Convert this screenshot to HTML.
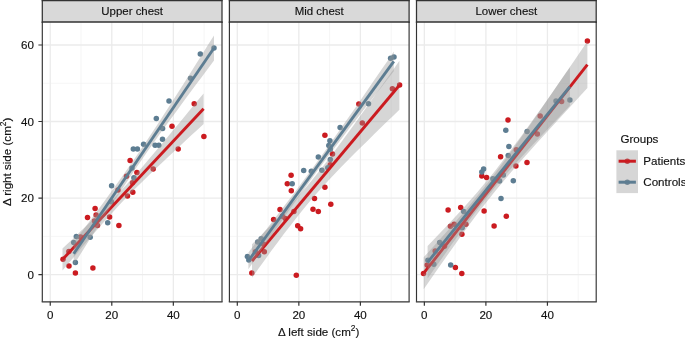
<!DOCTYPE html>
<html><head><meta charset="utf-8"><style>
html,body{margin:0;padding:0;background:#fff;}
svg{display:block;will-change:transform;}
.t{font-family:"Liberation Sans",sans-serif;font-size:11.6px;fill:#111;stroke:#111;stroke-width:0.15px;}
.s{font-size:11.45px;text-anchor:middle;}
.m{text-anchor:middle;}
.e{text-anchor:end;}
.sup{font-size:8.4px;}
.gm{stroke:#F2F2F2;stroke-width:0.75;fill:none;}
.gj{stroke:#EBEBEB;stroke-width:1.3;fill:none;}
.r{fill:#CB1B20;}
.b{fill:#5D7D92;}
.rb{fill:#999;fill-opacity:0.4;}
.lR{stroke:#CB1B20;stroke-width:2.9;fill:none;}
.lB{stroke:#5D7D92;stroke-width:2.9;fill:none;}
.pb{fill:none;stroke:#333;stroke-width:1.3;}
.pv{fill:none;stroke:#333;stroke-width:1.15;}
.sv{fill:none;stroke:#333;stroke-width:1.25;}
.sh{fill:none;stroke:#333;stroke-width:1.4;}
.tk{stroke:#333;stroke-width:1.2;fill:none;}
</style></head>
<body>
<svg width="685" height="338" viewBox="0 0 685 338">
<rect width="685" height="338" fill="#fff"/>
<clipPath id="c0"><rect x="42.3" y="22.0" width="179.7" height="279.85"/></clipPath>
<g clip-path="url(#c0)">
<path d="M81.02,22.0V301.85M142.56,22.0V301.85M204.10,22.0V301.85M42.3,236.33H222.00M42.3,159.79H222.00M42.3,83.25H222.00" class="gm"/>
<path d="M50.25,22.0V301.85M111.79,22.0V301.85M173.33,22.0V301.85M42.3,274.60H222.00M42.3,198.06H222.00M42.3,121.52H222.00M42.3,44.98H222.00" class="gj"/>
<g class="r"><circle cx="63" cy="259.3" r="2.75"/><circle cx="68.9" cy="251.4" r="2.75"/><circle cx="69" cy="266" r="2.75"/><circle cx="75.4" cy="273.1" r="2.75"/><circle cx="80.6" cy="237" r="2.75"/><circle cx="87.5" cy="217.4" r="2.75"/><circle cx="92.9" cy="268" r="2.75"/><circle cx="95.1" cy="208.4" r="2.75"/><circle cx="96.1" cy="215" r="2.75"/><circle cx="94.5" cy="221.1" r="2.75"/><circle cx="97.5" cy="225.5" r="2.75"/><circle cx="109.6" cy="216.9" r="2.75"/><circle cx="118.9" cy="225.5" r="2.75"/><circle cx="118" cy="190" r="2.75"/><circle cx="127.5" cy="196" r="2.75"/><circle cx="126.5" cy="176.3" r="2.75"/><circle cx="130.1" cy="160.4" r="2.75"/><circle cx="132.5" cy="182.8" r="2.75"/><circle cx="132.8" cy="192.2" r="2.75"/><circle cx="136.9" cy="172.5" r="2.75"/><circle cx="153.2" cy="168.9" r="2.75"/><circle cx="172" cy="126.3" r="2.75"/><circle cx="178.2" cy="149" r="2.75"/><circle cx="194.2" cy="103.8" r="2.75"/><circle cx="203.9" cy="136.5" r="2.75"/></g>
<g class="b"><circle cx="73.7" cy="242.4" r="2.75"/><circle cx="75.4" cy="262.6" r="2.75"/><circle cx="76.3" cy="236.6" r="2.75"/><circle cx="90.2" cy="237.3" r="2.75"/><circle cx="107.7" cy="222.8" r="2.75"/><circle cx="111.4" cy="201.8" r="2.75"/><circle cx="111.6" cy="185.7" r="2.75"/><circle cx="132" cy="168" r="2.75"/><circle cx="133.9" cy="177.8" r="2.75"/><circle cx="133.3" cy="149.1" r="2.75"/><circle cx="137.4" cy="149.1" r="2.75"/><circle cx="143.6" cy="144.2" r="2.75"/><circle cx="155.1" cy="145.2" r="2.75"/><circle cx="158.8" cy="145.2" r="2.75"/><circle cx="156.3" cy="118.4" r="2.75"/><circle cx="162.6" cy="128.5" r="2.75"/><circle cx="162.5" cy="139.3" r="2.75"/><circle cx="169" cy="101.1" r="2.75"/><circle cx="190.5" cy="78.3" r="2.75"/><circle cx="200.3" cy="54" r="2.75"/><circle cx="214" cy="48" r="2.75"/></g>
<path d="M62.5,248.4 L68.6,242.7 L74.8,236.9 L80.9,231.1 L87.0,225.2 L93.2,219.2 L99.3,213.2 L105.4,207.0 L111.6,200.7 L117.7,194.2 L123.8,187.6 L130.0,180.8 L136.1,173.9 L142.3,166.9 L148.4,159.7 L154.5,152.5 L160.7,145.2 L166.8,137.9 L172.9,130.5 L179.1,123.2 L185.2,115.7 L191.3,108.3 L197.5,100.8 L203.6,93.4 L203.6,124.0 L197.5,129.7 L191.3,135.3 L185.2,141.0 L179.1,146.7 L172.9,152.4 L166.8,158.2 L160.7,164.0 L154.5,169.8 L148.4,175.7 L142.3,181.7 L136.1,187.7 L130.0,193.9 L123.8,200.3 L117.7,206.8 L111.6,213.4 L105.4,220.2 L99.3,227.2 L93.2,234.2 L87.0,241.4 L80.9,248.6 L74.8,255.9 L68.6,263.2 L62.5,270.6Z" class="rb"/>
<path d="M62.5,259.5L203.6,108.7" class="lR"/>
<path d="M73.7,242.7 L79.8,234.5 L85.9,226.3 L92.0,218.1 L98.1,209.8 L104.2,201.4 L110.3,193.1 L116.4,184.6 L122.5,176.0 L128.6,167.3 L134.7,158.5 L140.8,149.6 L146.9,140.5 L153.0,131.3 L159.1,122.0 L165.2,112.5 L171.3,103.0 L177.4,93.5 L183.5,83.9 L189.6,74.2 L195.7,64.6 L201.8,54.9 L207.9,45.1 L214.0,35.4 L214.0,60.6 L207.9,68.8 L201.8,76.9 L195.7,85.1 L189.6,93.3 L183.5,101.6 L177.4,109.9 L171.3,118.2 L165.2,126.6 L159.1,135.1 L153.0,143.7 L146.9,152.3 L140.8,161.2 L134.7,170.1 L128.6,179.2 L122.5,188.4 L116.4,197.7 L110.3,207.2 L104.2,216.7 L98.1,226.2 L92.0,235.8 L85.9,245.5 L79.8,255.2 L73.7,264.9Z" class="rb"/>
<path d="M73.7,253.8L214.0,48.0" class="lB"/>
</g>
<path d="M42.3,22.0V301.85M222.00,22.0V301.85" class="pv"/>
<path d="M41.70,301.85H222.60" class="pb"/>
<rect x="42.3" y="0.65" width="179.7" height="21.35" fill="#D9D9D9"/>
<path d="M42.3,-0.05V22.70M222.00,-0.05V22.70" class="sv"/>
<path d="M41.70,0.65H222.60M41.70,22.0H222.60" class="sh"/>
<text x="132.15" y="15.0" class="t s">Upper chest</text>
<path d="M50.25,301.85v3.9M111.79,301.85v3.9M173.33,301.85v3.9" class="tk"/>
<text x="50.25" y="319.1" class="t m">0</text>
<text x="111.79" y="319.1" class="t m">20</text>
<text x="173.33" y="319.1" class="t m">40</text>
<clipPath id="c1"><rect x="229.4" y="22.0" width="179.7" height="279.85"/></clipPath>
<g clip-path="url(#c1)">
<path d="M268.07,22.0V301.85M329.61,22.0V301.85M391.15,22.0V301.85M229.4,236.33H409.10M229.4,159.79H409.10M229.4,83.25H409.10" class="gm"/>
<path d="M237.30,22.0V301.85M298.84,22.0V301.85M360.38,22.0V301.85M229.4,274.60H409.10M229.4,198.06H409.10M229.4,121.52H409.10M229.4,44.98H409.10" class="gj"/>
<g class="r"><circle cx="251.8" cy="272.9" r="2.75"/><circle cx="255.5" cy="251.7" r="2.75"/><circle cx="263.6" cy="244.3" r="2.75"/><circle cx="264.3" cy="251.7" r="2.75"/><circle cx="273.6" cy="219.4" r="2.75"/><circle cx="280" cy="209.5" r="2.75"/><circle cx="282.4" cy="216.3" r="2.75"/><circle cx="285.3" cy="218.5" r="2.75"/><circle cx="287.3" cy="183.7" r="2.75"/><circle cx="291.3" cy="190.7" r="2.75"/><circle cx="291.1" cy="175.2" r="2.75"/><circle cx="293.9" cy="211.5" r="2.75"/><circle cx="296.3" cy="275.2" r="2.75"/><circle cx="297.7" cy="225.8" r="2.75"/><circle cx="300.6" cy="228.7" r="2.75"/><circle cx="313" cy="209.2" r="2.75"/><circle cx="314.5" cy="198.4" r="2.75"/><circle cx="318.3" cy="211.6" r="2.75"/><circle cx="324.9" cy="187.2" r="2.75"/><circle cx="330.8" cy="204.2" r="2.75"/><circle cx="324.9" cy="135.2" r="2.75"/><circle cx="332.5" cy="154" r="2.75"/><circle cx="330.3" cy="164.8" r="2.75"/><circle cx="358.8" cy="104" r="2.75"/><circle cx="362.3" cy="123" r="2.75"/><circle cx="392.4" cy="88.8" r="2.75"/><circle cx="399.6" cy="85" r="2.75"/></g>
<g class="b"><circle cx="247.4" cy="256.6" r="2.75"/><circle cx="248.8" cy="259.9" r="2.75"/><circle cx="257.7" cy="241.9" r="2.75"/><circle cx="261.2" cy="238.8" r="2.75"/><circle cx="258.6" cy="255.4" r="2.75"/><circle cx="292.2" cy="183.7" r="2.75"/><circle cx="303.7" cy="170.5" r="2.75"/><circle cx="311.3" cy="171.2" r="2.75"/><circle cx="318.3" cy="157" r="2.75"/><circle cx="321.9" cy="170.2" r="2.75"/><circle cx="327.8" cy="167.7" r="2.75"/><circle cx="329.9" cy="140.7" r="2.75"/><circle cx="328.8" cy="145.5" r="2.75"/><circle cx="330.3" cy="149.2" r="2.75"/><circle cx="330.3" cy="159.6" r="2.75"/><circle cx="340.1" cy="127.4" r="2.75"/><circle cx="368.5" cy="103.7" r="2.75"/><circle cx="390.6" cy="58.3" r="2.75"/><circle cx="394.0" cy="57.0" r="2.75"/></g>
<path d="M252.0,244.3 L258.4,238.0 L264.8,231.6 L271.2,225.1 L277.6,218.5 L284.0,211.8 L290.5,204.9 L296.9,197.9 L303.3,190.5 L309.7,183.0 L316.1,175.1 L322.5,167.0 L328.9,158.7 L335.3,150.2 L341.7,141.6 L348.1,132.8 L354.5,124.0 L360.9,115.1 L367.4,106.1 L373.8,97.1 L380.2,88.1 L386.6,79.0 L393.0,69.9 L399.4,60.8 L399.4,109.8 L393.0,115.9 L386.6,122.1 L380.2,128.3 L373.8,134.6 L367.4,140.9 L360.9,147.2 L354.5,153.6 L348.1,160.0 L341.7,166.5 L335.3,173.2 L328.9,179.9 L322.5,186.9 L316.1,194.1 L309.7,201.5 L303.3,209.2 L296.9,217.2 L290.5,225.4 L284.0,233.8 L277.6,242.4 L271.2,251.1 L264.8,259.9 L258.4,268.8 L252.0,277.7Z" class="rb"/>
<path d="M252.0,261.0L399.4,85.3" class="lR"/>
<path d="M248.4,252.4 L254.7,244.2 L261.0,236.1 L267.4,228.0 L273.7,219.8 L280.0,211.5 L286.3,203.3 L292.7,194.9 L299.0,186.5 L305.3,178.0 L311.6,169.4 L317.9,160.8 L324.3,152.0 L330.6,143.1 L336.9,134.1 L343.2,125.1 L349.5,116.0 L355.9,106.9 L362.2,97.8 L368.5,88.6 L374.8,79.3 L381.2,70.1 L387.5,60.9 L393.8,51.6 L393.8,71.2 L387.5,79.3 L381.2,87.4 L374.8,95.5 L368.5,103.6 L362.2,111.7 L355.9,119.9 L349.5,128.1 L343.2,136.4 L336.9,144.7 L330.6,153.1 L324.3,161.6 L317.9,170.1 L311.6,178.8 L305.3,187.5 L299.0,196.4 L292.7,205.3 L286.3,214.3 L280.0,223.4 L273.7,232.5 L267.4,241.6 L261.0,250.8 L254.7,260.0 L248.4,269.2Z" class="rb"/>
<path d="M248.4,260.8L393.8,61.4" class="lB"/>
</g>
<path d="M229.4,22.0V301.85M409.10,22.0V301.85" class="pv"/>
<path d="M228.80,301.85H409.70" class="pb"/>
<rect x="229.4" y="0.65" width="179.7" height="21.35" fill="#D9D9D9"/>
<path d="M229.4,-0.05V22.70M409.10,-0.05V22.70" class="sv"/>
<path d="M228.80,0.65H409.70M228.80,22.0H409.70" class="sh"/>
<text x="319.25" y="15.0" class="t s">Mid chest</text>
<path d="M237.30,301.85v3.9M298.84,301.85v3.9M360.38,301.85v3.9" class="tk"/>
<text x="237.30" y="319.1" class="t m">0</text>
<text x="298.84" y="319.1" class="t m">20</text>
<text x="360.38" y="319.1" class="t m">40</text>
<clipPath id="c2"><rect x="416.5" y="22.0" width="179.7" height="279.85"/></clipPath>
<g clip-path="url(#c2)">
<path d="M455.12,22.0V301.85M516.66,22.0V301.85M578.20,22.0V301.85M416.5,236.33H596.20M416.5,159.79H596.20M416.5,83.25H596.20" class="gm"/>
<path d="M424.35,22.0V301.85M485.89,22.0V301.85M547.43,22.0V301.85M416.5,274.60H596.20M416.5,198.06H596.20M416.5,121.52H596.20M416.5,44.98H596.20" class="gj"/>
<g class="r"><circle cx="423.5" cy="273.5" r="2.75"/><circle cx="427.2" cy="265" r="2.75"/><circle cx="435.2" cy="251" r="2.75"/><circle cx="444.5" cy="246.3" r="2.75"/><circle cx="448.1" cy="210" r="2.75"/><circle cx="450.4" cy="226.2" r="2.75"/><circle cx="454.1" cy="224.3" r="2.75"/><circle cx="455.4" cy="267.5" r="2.75"/><circle cx="461.8" cy="273.4" r="2.75"/><circle cx="461.9" cy="234.3" r="2.75"/><circle cx="460.7" cy="207.5" r="2.75"/><circle cx="465.9" cy="224.3" r="2.75"/><circle cx="481.8" cy="175.9" r="2.75"/><circle cx="486.6" cy="177.4" r="2.75"/><circle cx="484.1" cy="211" r="2.75"/><circle cx="494.1" cy="226" r="2.75"/><circle cx="506.3" cy="216.3" r="2.75"/><circle cx="500.6" cy="156.7" r="2.75"/><circle cx="508" cy="120" r="2.75"/><circle cx="515.9" cy="166" r="2.75"/><circle cx="527.0" cy="162.6" r="2.75"/><circle cx="516.3" cy="149.8" r="2.75"/><circle cx="537.3" cy="134" r="2.75"/><circle cx="540.2" cy="116" r="2.75"/><circle cx="561.6" cy="101.6" r="2.75"/><circle cx="587.4" cy="40.9" r="2.75"/></g>
<g class="b"><circle cx="427.9" cy="260.2" r="2.75"/><circle cx="433.8" cy="264.3" r="2.75"/><circle cx="439.7" cy="242.5" r="2.75"/><circle cx="450.7" cy="264.9" r="2.75"/><circle cx="463.7" cy="211.4" r="2.75"/><circle cx="462.2" cy="227.7" r="2.75"/><circle cx="481.8" cy="171.9" r="2.75"/><circle cx="483.6" cy="168.9" r="2.75"/><circle cx="492.9" cy="178.8" r="2.75"/><circle cx="499.6" cy="181.1" r="2.75"/><circle cx="503.3" cy="175.1" r="2.75"/><circle cx="501" cy="198.6" r="2.75"/><circle cx="505.8" cy="130.3" r="2.75"/><circle cx="508.9" cy="146.6" r="2.75"/><circle cx="508.2" cy="155.6" r="2.75"/><circle cx="513.3" cy="180.8" r="2.75"/><circle cx="527.1" cy="131.4" r="2.75"/><circle cx="556" cy="100.9" r="2.75"/><circle cx="569.9" cy="100" r="2.75"/></g>
<path d="M423.7,257.2 L430.8,249.4 L437.9,241.5 L445.1,233.5 L452.2,225.5 L459.3,217.3 L466.4,209.0 L473.5,200.5 L480.6,191.7 L487.8,182.7 L494.9,173.5 L502.0,164.0 L509.1,154.3 L516.2,144.4 L523.3,134.3 L530.5,124.2 L537.6,114.0 L544.7,103.7 L551.8,93.4 L558.9,83.0 L566.0,72.6 L573.2,62.2 L580.3,51.7 L587.4,41.3 L587.4,88.1 L580.3,95.8 L573.2,103.5 L566.0,111.2 L558.9,118.9 L551.8,126.7 L544.7,134.5 L537.6,142.3 L530.5,150.2 L523.3,158.2 L516.2,166.3 L509.1,174.6 L502.0,183.0 L494.9,191.6 L487.8,200.5 L480.6,209.6 L473.5,219.0 L466.4,228.6 L459.3,238.4 L452.2,248.4 L445.1,258.5 L437.9,268.7 L430.8,278.9 L423.7,289.2Z" class="rb"/>
<path d="M423.7,273.2L587.4,64.7" class="lR"/>
<path d="M427.6,246.1 L433.8,239.6 L440.0,233.1 L446.2,226.5 L452.3,219.9 L458.5,213.2 L464.7,206.4 L470.9,199.5 L477.1,192.4 L483.3,185.1 L489.5,177.7 L495.7,170.0 L501.8,162.0 L508.0,153.9 L514.2,145.6 L520.4,137.2 L526.6,128.7 L532.8,120.1 L539.0,111.4 L545.2,102.7 L551.3,93.9 L557.5,85.1 L563.7,76.2 L569.9,67.4 L569.9,105.8 L563.7,112.3 L557.5,118.7 L551.3,125.2 L545.2,131.7 L539.0,138.2 L532.8,144.8 L526.6,151.5 L520.4,158.2 L514.2,165.1 L508.0,172.1 L501.8,179.2 L495.7,186.6 L489.5,194.2 L483.3,202.0 L477.1,210.0 L470.9,218.2 L464.7,226.5 L458.5,235.0 L452.3,243.6 L446.2,252.3 L440.0,261.0 L433.8,269.7 L427.6,278.5Z" class="rb"/>
<path d="M427.6,262.3L569.9,86.6" class="lB"/>
</g>
<path d="M416.5,22.0V301.85M596.20,22.0V301.85" class="pv"/>
<path d="M415.90,301.85H596.80" class="pb"/>
<rect x="416.5" y="0.65" width="179.7" height="21.35" fill="#D9D9D9"/>
<path d="M416.5,-0.05V22.70M596.20,-0.05V22.70" class="sv"/>
<path d="M415.90,0.65H596.80M415.90,22.0H596.80" class="sh"/>
<text x="506.35" y="15.0" class="t s">Lower chest</text>
<path d="M424.35,301.85v3.9M485.89,301.85v3.9M547.43,301.85v3.9" class="tk"/>
<text x="424.35" y="319.1" class="t m">0</text>
<text x="485.89" y="319.1" class="t m">20</text>
<text x="547.43" y="319.1" class="t m">40</text>
<path d="M38.40,274.60h3.9M38.40,198.06h3.9M38.40,121.52h3.9M38.40,44.98h3.9" class="tk"/>
<text x="33.9" y="278.75" class="t e">0</text>
<text x="33.9" y="202.21" class="t e">20</text>
<text x="33.9" y="125.67" class="t e">40</text>
<text x="33.9" y="49.13" class="t e">60</text>
<text x="318.7" y="335.5" class="t m">&#916; left side (cm<tspan dy="-5" class="sup">2</tspan><tspan dy="5">)</tspan></text>
<text transform="translate(11.3,161.9) rotate(-90)" class="t m">&#916; right side (cm<tspan dy="-5" class="sup">2</tspan><tspan dy="5">)</tspan></text>
<text x="620.4" y="143" class="t">Groups</text>
<circle cx="627.3" cy="161.2" r="2.75" fill="#CB1B20"/>
<circle cx="627.3" cy="182.2" r="2.75" fill="#5D7D92"/>
<rect x="616.4" y="150.3" width="21.6" height="42.8" class="rb"/>
<path d="M618.6,161.2H635.9" stroke="#CB1B20" stroke-width="3"/>
<text x="643.3" y="165.35" class="t">Patients</text>
<path d="M618.6,182.2H635.9" stroke="#5D7D92" stroke-width="3"/>
<text x="643.3" y="186.35" class="t">Controls</text>
</svg>
</body></html>
